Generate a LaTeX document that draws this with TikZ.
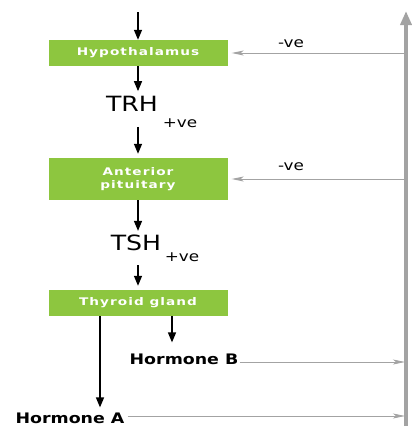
\documentclass[tikz,border=0pt]{standalone}
\usepackage{fontspec}
\setmainfont{DejaVu Sans}
\newfontfamily\widesans[FakeStretch=1.2]{DejaVu Sans}
\newfontfamily\boxsans[FakeStretch=1.3, LetterSpace=10]{DejaVu Sans}
\usetikzlibrary{arrows.meta}
\definecolor{glandgreen}{HTML}{8DC63F}
\definecolor{fbgray}{HTML}{A3A3A3}

\begin{document}
\begin{tikzpicture}[x=1pt, y=-1pt,
	organ/.style={fill=glandgreen, text=white, minimum width=179pt, inner sep=0pt, align=center, font=\boxsans\fontsize{10.5}{13}\selectfont\bfseries},
	hormone/.style={font=\widesans\fontsize{21}{22}\selectfont, inner sep=1pt},
	sign/.style={font=\widesans\fontsize{14}{15}\selectfont, inner sep=0pt},
	output/.style={font=\widesans\fontsize{14.5}{16}\selectfont\bfseries, inner sep=1pt},
	down/.style={line width=1.4pt, -{Triangle[width=8pt, length=10pt]}},
	feedback/.style={fbgray, line width=0.8pt, -{Stealth[width=5pt, length=12pt, inset=3pt]}}]
	\useasboundingbox (0,0) rectangle (412,439);
	% glands
	\node[organ, minimum height=26pt] (hypo) at (138, 53){Hypothalamus};
	\node[organ, minimum height=42pt] (ant) at (138, 179){Anterior\\pituitary};
	\node[organ, minimum height=26pt] (thy) at (138, 303){Thyroid gland};
	% releasing hormones
	\node[hormone] (trh) at (132, 104){TRH};
	\node[hormone] (tsh) at (136, 243){TSH};
	\node[sign] (trhpos) at (180, 123){+ve};
	\node[sign] (tshpos) at (182, 257){+ve};
	\node[sign] (hyponeg) at (291, 44){-ve};
	\node[sign] (antneg) at (291, 167){-ve};
	% thyroid hormones
	\node[output] (hormB) at (184, 359){Hormone B};
	\node[output] (hormA) at (70, 418){Hormone A};
	% feedback bar
	\coordinate (top) at (138, 12);
	\coordinate (barbottom) at (406, 426);
	\coordinate (bartop) at (406, 11);
	\coordinate (barH) at (405, 53);
	\coordinate (barP) at (405, 179);
	\coordinate (barB) at (405, 362);
	\coordinate (barA) at (405, 416);
	\draw[fbgray, line width=4pt, -{Triangle[width=11pt, length=14pt]}] (barbottom) -- (bartop);
	% main chain
	\draw[down] (top) -- (hypo.north);
	\draw[down] (hypo.south) -- ([yshift=4pt]hypo.south |- trh.north);
	\draw[down] ([yshift=-14pt]hypo.south |- trh.south) -- ([yshift=4pt]ant.north);
	\draw[down] (ant.south) -- ([yshift=3pt]ant.south |- tsh.north);
	\draw[down] ([yshift=-13pt]ant.south |- tsh.south) -- ([yshift=4pt]thy.north);
	\coordinate (thyB) at (172, 316);
	\coordinate (thyA) at (100, 316);
	\draw[down] (thyB) -- ([yshift=10pt]thyB |- hormB.north);
	\draw[down] (thyA) -- ([yshift=4pt]thyA |- hormA.north);
	% negative feedback
	\draw[feedback] (barH) -- ([xshift=4pt]hypo.east);
	\draw[feedback] (barP) -- ([xshift=4pt]ant.east);
	\draw[feedback] (hormB.east |- barB) -- (barB);
	\draw[feedback] ([xshift=2pt]hormA.east |- barA) -- (barA);
\end{tikzpicture}
\end{document}
